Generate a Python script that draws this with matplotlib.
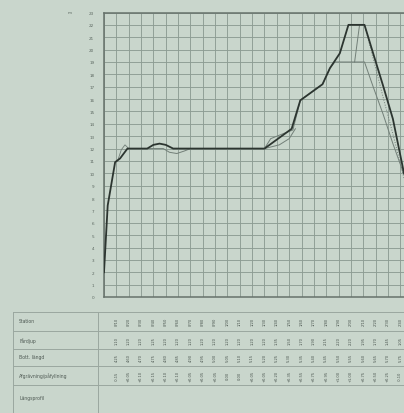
import matplotlib.pyplot as plt
import numpy as np
from matplotlib.transforms import blended_transform_factory

# profile data (x = station index, y = level)
main_x = [0, 0.3, 0.9, 1.3, 1.6, 1.9, 3.5, 4.0, 4.5, 5.0, 5.6, 6.2, 13.0, 15.2, 15.9,
          17.7, 18.3, 19.1, 19.8, 21.1, 21.8, 22.6, 23.4, 24.3]
main_y = [2.0, 7.4, 10.9, 11.2, 11.6, 12.0, 12.0, 12.3, 12.4, 12.3, 12.0, 12.0, 12.0, 13.6, 15.9,
          17.2, 18.5, 19.7, 22.0, 22.0, 19.7, 17.1, 14.4, 10.0]

alt1_x = [1.9, 4.8, 5.3, 5.9, 6.5, 7.0, 13.0, 13.5, 14.5, 15.3, 15.9, 17.7, 18.3, 18.7,
          21.1, 21.8, 22.6, 23.4, 24.3]
alt1_y = [12.0, 12.0, 11.7, 11.6, 11.8, 12.0, 12.0, 12.8, 13.2, 13.5, 15.9, 17.2, 18.5, 19.0,
          19.0, 17.0, 14.8, 12.4, 9.9]
alt2_x = [20.3, 20.7]
alt2_y = [19.0, 22.0]
alt3_x = [21.1, 21.9, 22.7, 23.5, 24.3]
alt3_y = [22.0, 18.9, 15.8, 12.8, 9.6]
alt4_x = [13.0, 14.2, 15.0, 15.5]
alt4_y = [12.0, 12.3, 12.8, 13.6]
alt5_x = [1.1, 1.4, 1.7, 2.0]
alt5_y = [11.0, 11.9, 12.3, 12.0]

y_ticks = list(range(0, 24))

# table below the profile
row_names = ["Station", "Fårdjup", "Bott. längd", "Afgrävning/påfyllning", "Längsprofil"]
stations = list(range(1, 25))
row_station = ["0/10", "0/20", "0/30", "0/40", "0/50", "0/60", "0/70", "0/80", "0/90", "1/00",
               "1/10", "1/20", "1/30", "1/40", "1/50", "1/60", "1/70", "1/80", "1/90", "2/00",
               "2/10", "2/20", "2/30", "2/40"]
row_depth = ["1.10", "1.20", "1.20", "1.25", "1.20", "1.20", "1.20", "1.20", "1.20", "1.20",
             "1.20", "1.20", "1.20", "1.35", "1.50", "1.70", "1.90", "2.15", "2.20", "2.20",
             "1.95", "1.70", "1.45", "1.05"]
row_bott = ["4.25", "4.60", "4.70", "4.75", "4.80", "4.85", "4.90", "4.95", "5.00", "5.05",
            "5.10", "5.15", "5.20", "5.25", "5.30", "5.35", "5.40", "5.45", "5.50", "5.55",
            "5.60", "5.65", "5.70", "5.75"]
row_cut = ["-0.15", "+0.05", "+0.10", "+0.15", "+0.10", "+0.10", "+0.05", "+0.05", "+0.05", "0.00",
           "0.00", "+0.05", "+0.05", "+0.20", "+0.35", "+0.55", "+0.75", "+0.95", "+1.00", "+1.00",
           "+0.75", "+0.50", "+0.25", "-0.10"]

bg = "#c9d6cc"
grid_c = "#8d9c93"
line_c = "#2c3530"
thin_c = "#727f78"

fig = plt.figure(figsize=(4.04, 4.14), dpi=100, facecolor=bg)

# full-figure helper axes in pixel coordinates
tab = fig.add_axes([0, 0, 1, 1])
tab.set_xlim(0, 404)
tab.set_ylim(414, 0)
tab.axis("off")

ax = fig.add_axes([104 / 404, 1 - 298 / 414, 1 - 104 / 404, (298 - 13.5) / 414])
ax.set_facecolor(bg)
ax.set_xlim(0, 24.3)
ax.set_ylim(0, 23)
ax.set_xticks(np.arange(0, 25))
ax.set_yticks(y_ticks)
ax.set_xticklabels([])
ax.set_yticklabels([str(v) for v in y_ticks], fontsize=3, color="#5a665f")
ax.tick_params(axis="y", length=0, pad=7)
ax.tick_params(axis="x", length=0)
ax.grid(True, color=grid_c, linewidth=0.65)
for side in ["left", "bottom", "top"]:
    ax.spines[side].set_color("#66726b")
    ax.spines[side].set_linewidth(1.1)
ax.spines["right"].set_visible(False)

ax.plot(alt1_x, alt1_y, color=thin_c, lw=0.7, zorder=3)
ax.plot(alt2_x, alt2_y, color=thin_c, lw=0.7, zorder=3)
ax.plot(alt3_x, alt3_y, color=thin_c, lw=0.7, ls=":", zorder=3)
ax.plot(alt4_x, alt4_y, color=thin_c, lw=0.7, zorder=3)
ax.plot(alt5_x, alt5_y, color=thin_c, lw=0.6, zorder=3)
ax.plot(main_x, main_y, color=line_c, lw=1.3, zorder=4)

ax.text(-0.113, 1.0, "m", transform=ax.transAxes, fontsize=3, color="#5a665f",
        ha="center", va="center")

# table frame
line_kw = dict(color="#9aa79f", lw=0.7)
for yy in [313, 332, 350, 367, 386]:
    tab.plot([13, 404], [yy, yy], **line_kw)
tab.plot([13, 13], [313, 414], **line_kw)
tab.plot([98, 98], [313, 414], **line_kw)

row_y = [322, 341, 358, 376, 399]
for name, yy in zip(row_names, row_y):
    tab.text(19, yy, name, fontsize=3.3, color="#4f5a54", va="center", ha="left")

trans = blended_transform_factory(ax.transData, tab.transData)
for vals, yy in zip([row_station, row_depth, row_bott, row_cut], row_y[:4]):
    for s, v in zip(stations, vals):
        tab.text(s, yy, v, transform=trans, rotation=90, fontsize=2.6, color="#4a554f",
                 ha="center", va="center", clip_on=False)

fig.savefig("out.png", dpi=100, facecolor=bg)
